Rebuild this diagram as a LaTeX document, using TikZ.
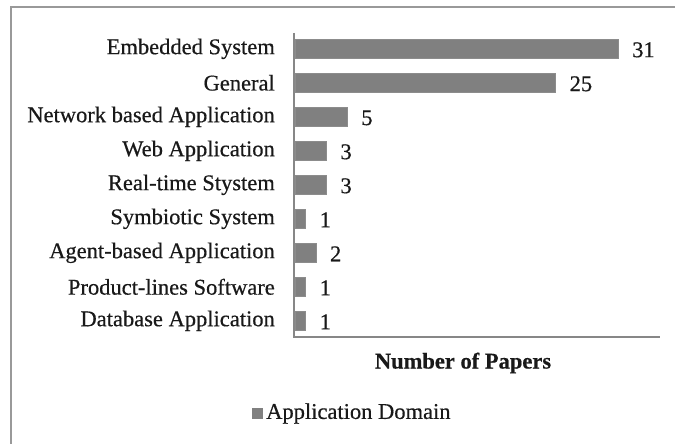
\documentclass[tikz,border=0pt]{standalone}
\usepackage{fontspec}
\setmainfont{Liberation Serif}[FakeBold=0.5]
\begin{document}
\begin{tikzpicture}[x=1pt,y=-1pt,
  frameline/.style={draw=black!40,line width=2pt},
  axisline/.style={draw=black!47,line width=2pt},
  bar/.style={fill=black!50,draw=black!45,line width=0.4pt},
  txt/.style={inner sep=0pt,text=black!90,font=\fontsize{22.5}{24}\selectfont},
  cat/.style={txt,anchor=east},
  val/.style={txt,anchor=west},
  ttl/.style={txt,font=\fontsize{22.5}{24}\selectfont\bfseries},
  leg/.style={txt,anchor=west}]
\useasboundingbox (0,0) rectangle (675,444);
\fill[white] (0,0) rectangle (675,444);
% chart area frame (only top and left edges fall inside the page)
\draw[frameline] (11,460) -- (11,7) -- (690,7);
% axes
\coordinate (ytop) at (294,33);
\coordinate (orig) at (294,337);
\coordinate (xend) at (660,337);
\draw[axisline] (ytop) -- (orig) -- (xend);
% bars: one unit = 10.42 px, rows 34 px apart
\foreach \v/\name [count=\i from 0] in {31/Embedded System\ ,25/General,5/Network based Application,3/Web Application,3/Real-time Stystem,1/Symbiotic System,2/Agent-based Application,1/Product-lines Software,1/Database Application}{
  \pgfmathsetmacro{\yc}{48.8+34*\i}
  \pgfmathsetmacro{\xe}{295+10.42*\v}
  \draw[bar] (295,\yc-9.5) rectangle (\xe,\yc+9.5);
  \node[cat] (c\i) at (275,\yc) {\name};
  \node[val] (v\i) at (\xe+14,\yc+1) {\v};
}
% axis title
\node[ttl] (title) at (463,363) {Number of Papers};
% legend
\node[fill=black!50,minimum size=11pt,inner sep=0pt] (key) at (257,413.8) {};
\node[leg] (legtext) at (266,413.5) {Application Domain};
\end{tikzpicture}
\end{document}
